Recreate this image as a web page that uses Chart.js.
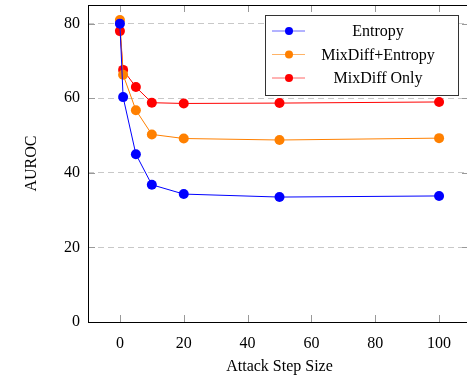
<!DOCTYPE html>
<html>
<head>
<meta charset="utf-8">
<script src="https://cdn.jsdelivr.net/npm/chart.js@4/dist/chart.umd.min.js"></script>
<style>
	html, body { margin: 0; padding: 0; background: #fff; overflow: hidden; }
	/* the plot frame runs a few pixels past the right edge, as in the original */
	#wrap { width: 467px; height: 384px; overflow: hidden; }
</style>
</head>
<body>
<div id="wrap"><canvas id="chart" width="471" height="384"></canvas></div>
<script>
const stepSizes = [0, 1, 5, 10, 20, 50, 100];
const entropy = [80.0, 60.3, 45.0, 36.8, 34.3, 33.5, 33.8];
const mixdiffEntropy = [81.0, 66.3, 56.8, 50.3, 49.2, 48.8, 49.3];
const mixdiffOnly = [78.0, 67.6, 63.0, 58.8, 58.6, 58.7, 59.0];
const xTicks = [0, 20, 40, 60, 80, 100];
const yTicks = [0, 20, 40, 60, 80];

const serif = '"Liberation Serif", "Times New Roman", serif';

const toPoints = vals => vals.map((v, i) => ({ x: stepSizes[i], y: v }));

const series = [
	{ label: 'Entropy', data: entropy, color: '#0000ff' },
	{ label: 'MixDiff+Entropy', data: mixdiffEntropy, color: '#ff8000' },
	{ label: 'MixDiff Only', data: mixdiffOnly, color: '#ff0000' }
];

// no extra room for overhanging tick labels
const noPad = s => {
	s.paddingLeft = 0; s.paddingRight = 0;
	s.paddingTop = 0; s.paddingBottom = 0;
};

// frame, inner ticks and the boxed legend, pgfplots style
const framePlugin = {
	id: 'frame',
	afterDatasetsDraw(chart) {
		const { ctx, chartArea: a, scales } = chart;
		const tl = 7;
		ctx.save();
		ctx.strokeStyle = '#999';
		ctx.lineWidth = 1;
		ctx.beginPath();
		xTicks.forEach(t => {
			const x = Math.round(scales.x.getPixelForValue(t)) + 0.5;
			ctx.moveTo(x, a.bottom); ctx.lineTo(x, a.bottom - tl);
			ctx.moveTo(x, a.top); ctx.lineTo(x, a.top + tl);
		});
		yTicks.forEach(t => {
			const y = Math.round(scales.y.getPixelForValue(t)) + 0.5;
			ctx.moveTo(a.left, y); ctx.lineTo(a.left + tl, y);
			ctx.moveTo(a.right, y); ctx.lineTo(a.right - tl - 2, y);
		});
		ctx.stroke();

		ctx.strokeStyle = '#000';
		ctx.strokeRect(Math.round(a.left) + 0.5, Math.round(a.top) + 0.5,
			Math.round(a.right - a.left), Math.round(a.bottom - a.top));

		// legend
		const lx = 265.5, ly = 15.5, lw = 193, lh = 80;
		ctx.fillStyle = '#fff';
		ctx.fillRect(lx, ly, lw, lh);
		ctx.strokeStyle = '#333';
		ctx.strokeRect(lx, ly, lw, lh);
		ctx.font = '16px ' + serif;
		ctx.textAlign = 'center';
		ctx.textBaseline = 'middle';
		series.forEach((s, i) => {
			const y = 31 + i * 23.5;
			ctx.strokeStyle = s.color;
			ctx.globalAlpha = 0.6;
			ctx.beginPath();
			ctx.moveTo(272, y); ctx.lineTo(305, y);
			ctx.stroke();
			ctx.globalAlpha = 1;
			ctx.fillStyle = s.color;
			ctx.beginPath();
			ctx.arc(289, y, 4, 0, Math.PI * 2);
			ctx.fill();
			ctx.fillStyle = '#000';
			ctx.fillText(s.label, 378, y + 1);
		});
		ctx.restore();
	}
};

new Chart(document.getElementById('chart'), {
	type: 'line',
	data: {
		datasets: series.map(s => ({
			label: s.label,
			data: toPoints(s.data),
			borderColor: s.color,
			backgroundColor: s.color,
			pointBackgroundColor: s.color,
			pointBorderWidth: 0,
			pointRadius: 5,
			borderWidth: 1,
			tension: 0,
			clip: 6
		}))
	},
	options: {
		responsive: false,
		animation: false,
		layout: { autoPadding: false, padding: { top: 5, right: 0, left: 0, bottom: 0 } },
		plugins: {
			legend: { display: false },
			tooltip: { enabled: false }
		},
		scales: {
			x: {
				type: 'linear',
				min: -10,
				max: 110,
				afterBuildTicks: s => { s.ticks = xTicks.map(v => ({ value: v })); },
				afterFit: s => { s.height = 62; noPad(s); },
				grid: { display: false, drawTicks: false },
				border: { display: false },
				ticks: { color: '#000', font: { family: serif, size: 16 }, padding: 12, maxRotation: 0 },
				title: {
					display: true,
					text: 'Attack Step Size',
					color: '#000',
					font: { family: serif, size: 16 },
					padding: { top: 6, bottom: 8 }
				}
			},
			y: {
				min: 0,
				max: 85,
				afterBuildTicks: s => { s.ticks = yTicks.map(v => ({ value: v })); },
				afterFit: s => { s.width = 88; noPad(s); },
				grid: {
					color: '#c8c8c8',
					lineWidth: 1,
					drawTicks: false
				},
				border: { display: false, dash: [6, 4] },
				ticks: { color: '#000', font: { family: serif, size: 16 }, padding: 8 },
				title: {
					display: true,
					text: 'AUROC',
					color: '#000',
					font: { family: serif, size: 16 },
					padding: { top: 22, bottom: 0 }
				}
			}
		}
	},
	plugins: [framePlugin]
});
</script>
</body>
</html>
